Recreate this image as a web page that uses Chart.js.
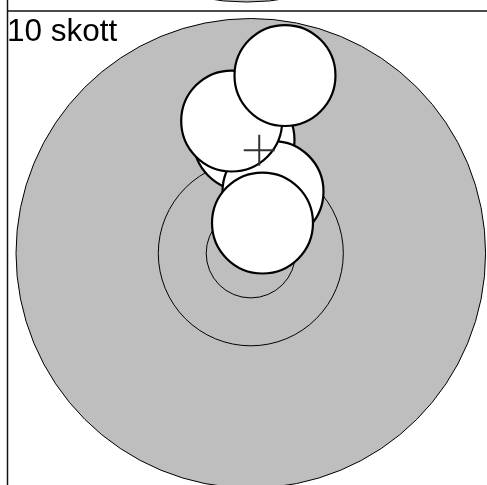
<!DOCTYPE html>
<html>
<head>
<meta charset="utf-8">
<script src="https://cdn.jsdelivr.net/npm/chart.js@4.4.0/dist/chart.umd.min.js"></script>
<style>
  html, body { margin: 0; padding: 0; background: #fff; }
  #wrap { width: 487px; height: 485px; position: relative; }
</style>
</head>
<body>
<div id="wrap"><canvas id="target" width="487" height="485"></canvas></div>
<script>
const seriesLabel = "10 skott";
// shot centres (mm from target centre), in drawing order: last one ends up on top
const shotX = [-1.45, 4.73, -4.07, 7.28, 2.49];
const shotY = [24.13, 13.14, 28.17, 37.86, 6.45];
const holeRadius = 10.75;
const targetRadius = 50;
const ringRadii = [19.7, 9.5];
// bottom of the target from the panel above
const prevTargetX = [-0.9];
const prevTargetY = [103.5];

const meanX = shotX.reduce((a, b) => a + b, 0) / shotX.length;
const meanY = shotY.reduce((a, b) => a + b, 0) / shotY.length;

// turn a radius in mm into pixels through the x scale
function scaled(getR) {
  return (ctx) => {
    const s = ctx.chart.scales.x;
    return Math.abs(s.getPixelForValue(getR(ctx)) - s.getPixelForValue(0));
  };
}

const panelDecor = {
  id: "panelDecor",
  afterDraw(chart) {
    const c = chart.ctx;
    c.save();
    c.strokeStyle = "#111";
    c.lineWidth = 1.5;
    c.beginPath();
    c.moveTo(7.5, 0);
    c.lineTo(7.5, chart.height);
    c.moveTo(7.5, 11);
    c.lineTo(chart.width, 11);
    c.stroke();
    c.fillStyle = "#000";
    c.font = '31.5px "Liberation Sans", Arial, sans-serif';
    c.textBaseline = "alphabetic";
    c.fillText(seriesLabel, 7, 41);
    c.restore();
  },
};

new Chart(document.getElementById("target"), {
  type: "scatter",
  data: {
    datasets: [
      {
        label: "Medelträffpunkt",
        data: [{ x: meanX, y: meanY }],
        pointStyle: "cross",
        pointRadius: 15.5,
        pointBorderColor: "#333",
        pointBorderWidth: 2,
        clip: false,
      },
      {
        label: seriesLabel,
        data: shotX.map((x, i) => ({ x, y: shotY[i] })),
        pointRadius: scaled(() => holeRadius),
        pointBackgroundColor: "#fff",
        pointBorderColor: "#000",
        pointBorderWidth: 2.2,
        clip: false,
      },
      {
        label: "Ringar",
        data: ringRadii.map(() => ({ x: 0, y: 0 })),
        pointRadius: scaled((ctx) => ringRadii[ctx.dataIndex]),
        pointBackgroundColor: "rgba(0,0,0,0)",
        pointBorderColor: "#000",
        pointBorderWidth: 1,
        clip: false,
      },
      {
        label: "Tavla",
        data: [{ x: 0, y: 0 }],
        pointRadius: scaled(() => targetRadius),
        pointBackgroundColor: "#bebebe",
        pointBorderColor: "#000",
        pointBorderWidth: 1,
        clip: false,
      },
      {
        label: "Föregående tavla",
        data: prevTargetX.map((x, i) => ({ x, y: prevTargetY[i] })),
        pointRadius: scaled(() => targetRadius),
        pointBackgroundColor: "#bebebe",
        pointBorderColor: "#000",
        pointBorderWidth: 1,
        clip: false,
      },
    ],
  },
  options: {
    responsive: false,
    animation: false,
    events: [],
    layout: { padding: 0, autoPadding: false },
    plugins: {
      legend: { display: false },
      tooltip: { enabled: false },
    },
    scales: {
      x: { type: "linear", display: false, min: -53.41, max: 50.3 },
      y: { type: "linear", display: false, min: -49.34, max: 53.94 },
    },
  },
  plugins: [panelDecor],
});
</script>
</body>
</html>
